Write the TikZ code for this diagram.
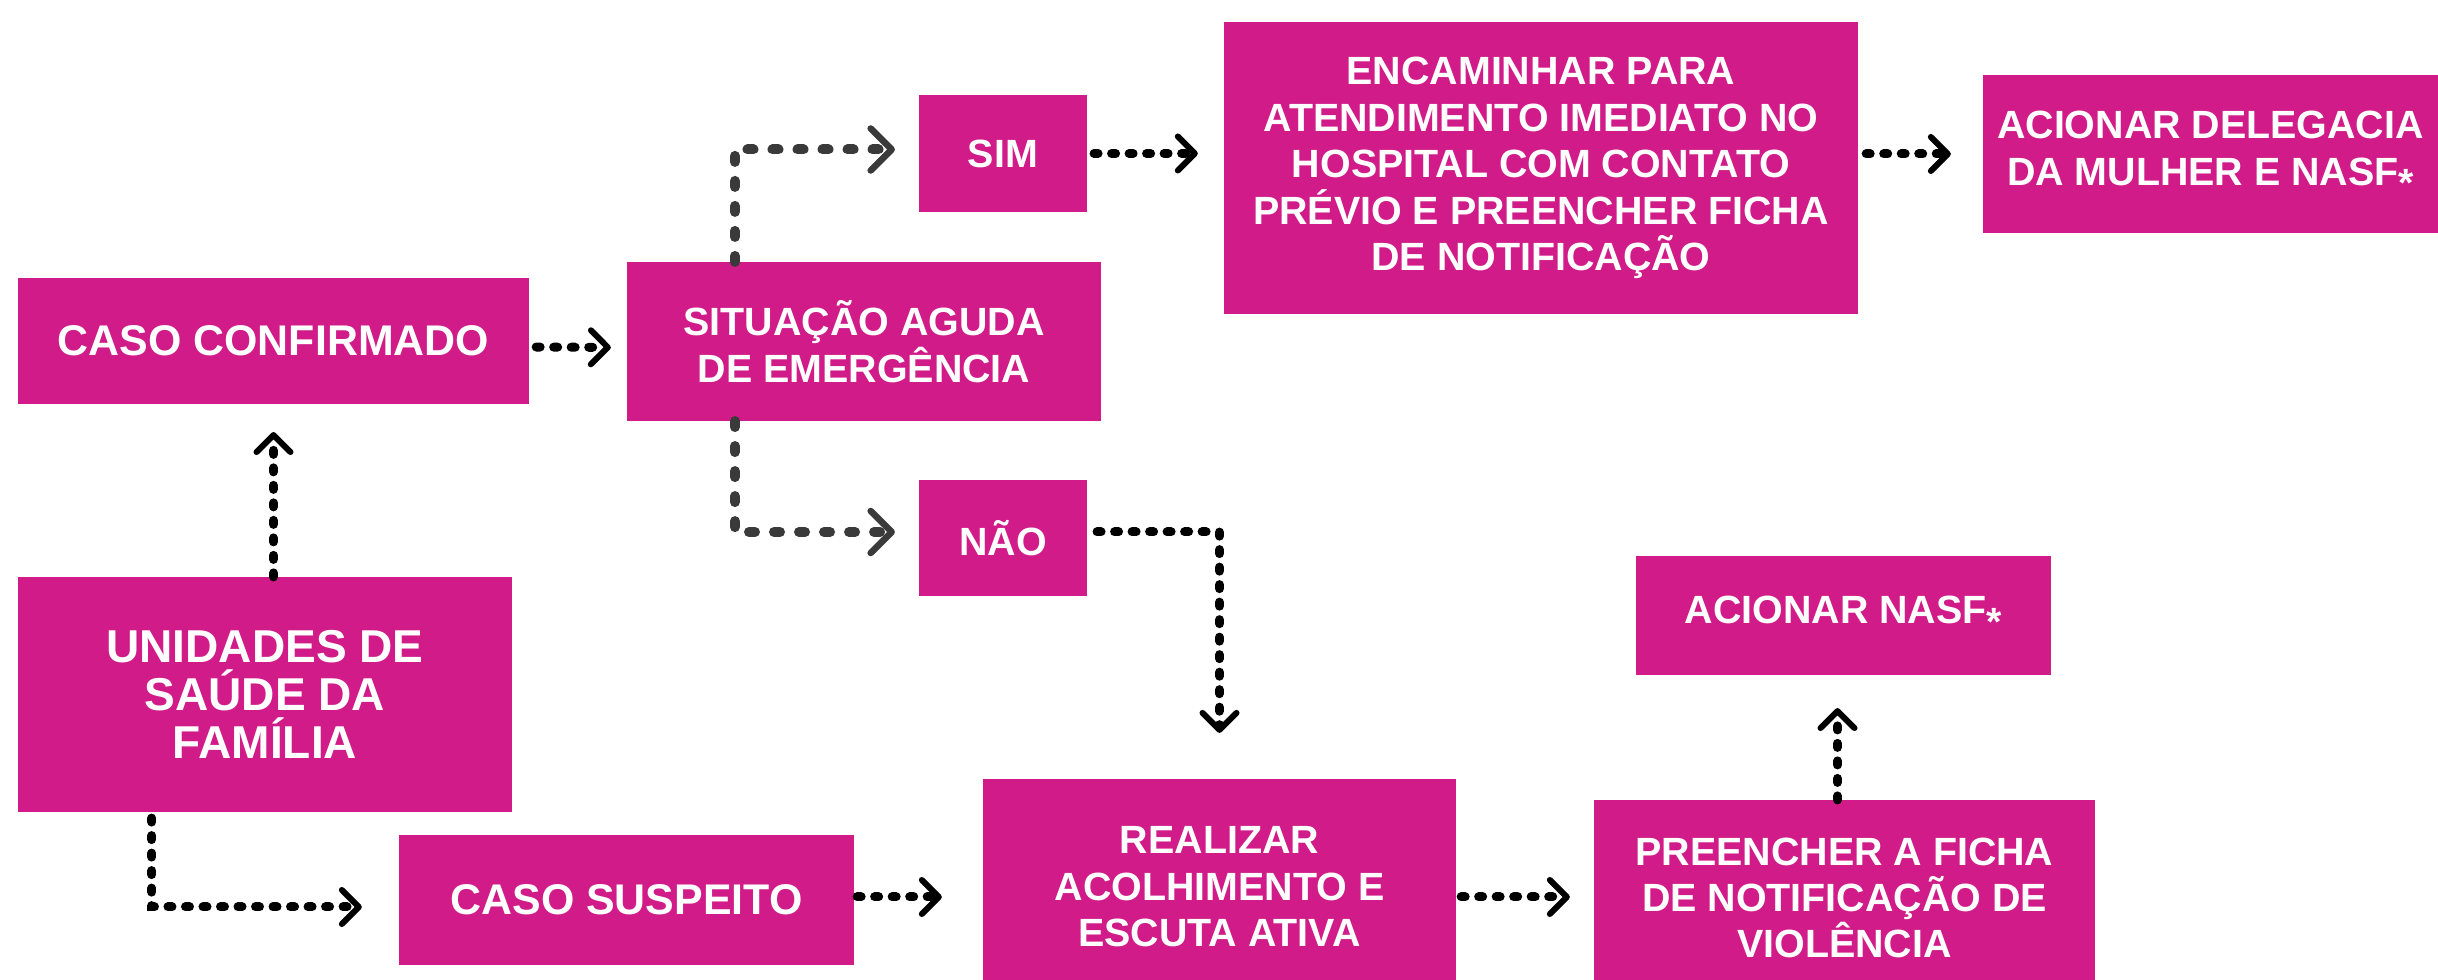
\documentclass[tikz,border=0pt]{standalone}
\usepackage{fontspec}
\setmainfont{Liberation Sans}
\usetikzlibrary{arrows.meta,calc}
\definecolor{mag}{RGB}{208,27,136}
\definecolor{dgray}{RGB}{58,58,58}
\newcommand{\fA}{\fontsize{12.2pt}{13.4pt}\selectfont\bfseries}
\newcommand{\fB}{\fontsize{11.2pt}{13.2pt}\selectfont\bfseries}
\newcommand{\fC}{\fontsize{13.1pt}{13.7pt}\selectfont\bfseries}
\newcommand{\lowstar}{\raisebox{-0.3em}{*}}
\tikzset{
  box/.style={fill=mag, text=white, align=center, inner sep=0pt, outer sep=0pt, draw=none},
  conn/.style={black, line width=0.09cm, line cap=round, dash pattern=on 0.04cm off 0.135cm,
    -{Straight Barb[length=0.17cm, width=0.34cm, line width=0.06cm, round]}},
  gconn/.style={conn, dgray, line width=0.1cm, dash pattern=on 0.06cm off 0.19cm,
    -{Straight Barb[length=0.21cm, width=0.42cm, line width=0.065cm, round]}}
}
\begin{document}
\begin{tikzpicture}[x=0.01cm, y=-0.01cm]
\useasboundingbox (0,0) rectangle (2438,980);
\fill[white] (0,0) rectangle (2438,980);

\node[box, minimum width=5.11cm, minimum height=1.26cm, font=\fA] (cc) at (273.5,341) {CASO CONFIRMADO};
\node[box, minimum width=4.74cm, minimum height=1.59cm, font=\fB] (sit) at (864,341.5) {SITUAÇÃO AGUDA\\DE EMERGÊNCIA};
\node[box, minimum width=1.68cm, minimum height=1.17cm, font=\fB] (sim) at (1003,153.5) {SIM};
\node[box, minimum width=1.68cm, minimum height=1.16cm, font=\fB] (nao) at (1003,538) {NÃO};
\node[box, minimum width=6.34cm, minimum height=2.92cm, font=\fB] (enc) at (1541,168) {ENCAMINHAR PARA\\ATENDIMENTO IMEDIATO NO\\HOSPITAL COM CONTATO\\PRÉVIO E PREENCHER FICHA\\DE NOTIFICAÇÃO};
\node[box, minimum width=4.55cm, minimum height=1.58cm, font=\fB] (del) at (2210.5,154) {ACIONAR DELEGACIA\\DA MULHER E NASF\lowstar};
\node[box, minimum width=4.94cm, minimum height=2.35cm, font=\fC] (uni) at (265,694.5) {UNIDADES DE\\SAÚDE DA\\FAMÍLIA};
\node[box, minimum width=4.55cm, minimum height=1.30cm, font=\fA] (sus) at (626.5,900) {CASO SUSPEITO};
\node[box, minimum width=4.73cm, minimum height=2.16cm, font=\fB] (real) at (1219.5,887) {REALIZAR\\ACOLHIMENTO E\\ESCUTA ATIVA};
\node[box, minimum width=4.15cm, minimum height=1.19cm, font=\fB] (nasf) at (1843.5,615.5) {ACIONAR NASF\lowstar};
\node[box, minimum width=5.01cm, minimum height=1.96cm, font=\fB] (pre) at (1844.5,898) {PREENCHER A FICHA\\DE NOTIFICAÇÃO DE\\VIOLÊNCIA};

% connectors
\draw[conn, shorten <=0.07cm, shorten >=0.16cm] ($(cc.east)+(0,6)$) -- ($(sit.west)+(0,6)$);
\draw[gconn, shorten >=0.24cm] ($(sit.north west)+(108,0)$) |- ($(sim.west)+(0,-4)$);
\draw[gconn, shorten >=0.24cm] ($(sit.south west)+(108,0)$) |- ($(nao.west)+(0,-6)$);
\draw[conn, shorten <=0.07cm, shorten >=0.26cm] (sim.east) -- (sim.east -| enc.west);
\draw[conn, shorten <=0.08cm, shorten >=0.32cm] (enc.east |- del.west) -- (del.west);
\draw[conn, shorten <=0.1cm, shorten >=0.46cm] ($(nao.east)+(0,-6)$) -| (real.north);
\draw[conn, shorten >=0.28cm] (uni.north -| cc.south) -- (cc.south);
\draw[conn, shorten <=0.06cm, shorten >=0.37cm] ($(uni.south west)+(134,0)$) |- ($(sus.west)+(0,7)$);
\draw[conn, shorten <=0.03cm, shorten >=0.41cm] ($(sus.east)+(0,-3)$) -- ($(sus.east -| real.west)+(0,-3)$);
\draw[conn, shorten <=0.05cm, shorten >=0.24cm] ($(sus.east -| real.east)+(0,-3)$) -- ($(sus.east -| pre.west)+(0,-3)$);
\draw[conn, shorten >=0.33cm] ($(pre.north)+(-7,0)$) -- ($(nasf.south)+(-6,0)$);
\end{tikzpicture}
\end{document}
